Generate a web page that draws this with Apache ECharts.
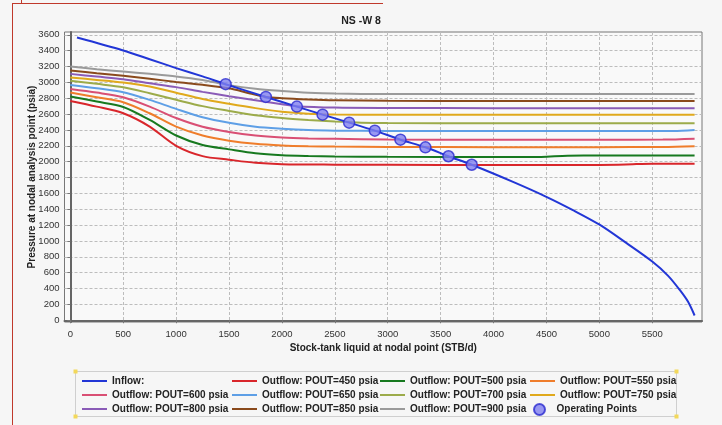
<!DOCTYPE html>
<html>
<head>
<meta charset="utf-8">
<script src="https://cdn.jsdelivr.net/npm/echarts@6/dist/echarts.min.js"></script>
<style>
html, body { margin: 0; padding: 0; background: #f6f6f6; }
#chart { width: 722px; height: 425px; }
</style>
</head>
<body>
<div id="chart"></div>
<script>
// tick labels
var xTicks = [0, 500, 1000, 1500, 2000, 2500, 3000, 3500, 4000, 4500, 5000, 5500];
var yTicks = [0, 200, 400, 600, 800, 1000, 1200, 1400, 1600, 1800, 2000, 2200, 2400, 2600, 2800, 3000, 3200, 3400, 3600];

// inflow curve [liquid rate, pressure]
var inflow = [[63, 3565], [500, 3402], [750, 3292], [1000, 3180], [1250, 3075], [1468, 2977], [1848, 2816],
    [2141, 2694], [2384, 2593], [2635, 2492], [2878, 2391], [3120, 2277], [3356, 2181], [3574, 2068],
    [3794, 1961], [4184, 1745], [4499, 1557], [4750, 1389], [5002, 1205], [5254, 975], [5500, 740],
    [5650, 560], [5758, 385], [5837, 235], [5900, 60]];

// outflow curves, one per outlet pressure
var out450 = [[0, 2766], [250, 2694], [500, 2610], [750, 2442], [1000, 2200], [1250, 2070], [1500, 2025],
    [1750, 1985], [2000, 1968], [2500, 1962], [3000, 1960], [4000, 1958], [5000, 1959], [5250, 1964],
    [5500, 1975], [5900, 1975]];
var out500 = [[0, 2821], [250, 2758], [500, 2690], [750, 2526], [1000, 2330], [1250, 2210], [1500, 2155],
    [1750, 2105], [2000, 2080], [2250, 2070], [2500, 2065], [3000, 2061], [4000, 2059], [4450, 2060],
    [4700, 2076], [5000, 2077], [5900, 2077]];
var out550 = [[0, 2871], [250, 2812], [500, 2750], [750, 2610], [1000, 2442], [1250, 2330], [1500, 2265],
    [1750, 2225], [2000, 2205], [2250, 2195], [2500, 2190], [3000, 2185], [4000, 2183], [5000, 2183],
    [5600, 2186], [5900, 2195]];
var out600 = [[0, 2917], [250, 2871], [500, 2812], [750, 2694], [1000, 2550], [1250, 2440], [1500, 2375],
    [1750, 2330], [2000, 2305], [2250, 2293], [2500, 2288], [3000, 2280], [4000, 2276], [5000, 2275],
    [5600, 2278], [5900, 2290]];
var out650 = [[0, 2968], [250, 2926], [500, 2876], [750, 2779], [1000, 2665], [1250, 2560], [1500, 2490],
    [1750, 2440], [2000, 2415], [2250, 2398], [2500, 2391], [3000, 2388], [4000, 2386], [5000, 2385],
    [5700, 2387], [5900, 2400]];
var out700 = [[0, 3019], [250, 2981], [500, 2939], [750, 2863], [1000, 2780], [1250, 2700], [1500, 2640],
    [1750, 2585], [2000, 2550], [2250, 2525], [2500, 2505], [2750, 2492], [3000, 2487], [4000, 2485],
    [5900, 2484]];
var out750 = [[0, 3061], [250, 3031], [500, 2998], [750, 2947], [1000, 2870], [1250, 2790], [1500, 2730],
    [1750, 2675], [2000, 2630], [2250, 2605], [2500, 2595], [3000, 2590], [4000, 2590], [5900, 2590]];
var out800 = [[0, 3107], [250, 3073], [500, 3040], [750, 2989], [1000, 2940], [1250, 2880], [1500, 2825],
    [1750, 2775], [2000, 2725], [2141, 2700], [2500, 2682], [3000, 2677], [4000, 2675], [5900, 2674]];
var out850 = [[0, 3149], [250, 3115], [500, 3082], [750, 3045], [1000, 3005], [1250, 2970], [1500, 2925],
    [1700, 2860], [1850, 2816], [2000, 2800], [2250, 2785], [2500, 2775], [3000, 2768], [4000, 2766],
    [5900, 2766]];
var out900 = [[0, 3200], [250, 3166], [500, 3136], [750, 3107], [1000, 3075], [1250, 3030], [1500, 2965],
    [1750, 2920], [2000, 2892], [2250, 2870], [2500, 2858], [3000, 2853], [4000, 2852], [5900, 2852]];

// operating points (intersections)
var opPoints = [[1468, 2977], [1848, 2816], [2141, 2694], [2384, 2593], [2635, 2492], [2878, 2391],
    [3120, 2277], [3356, 2181], [3574, 2068], [3794, 1961]];

var font = 'Liberation Sans';
var chart = echarts.init(document.getElementById('chart'));

function outflow(name, data, color) {
    return {
        name: name,
        type: 'line',
        data: data,
        color: color,
        smooth: 0.3,
        showSymbol: false,
        symbol: 'none',
        lineStyle: { width: 2, color: color },
        z: 2
    };
}

function legendCol(left, top, names, icon, w, h) {
    return {
        orient: 'vertical',
        left: left,
        top: top,
        data: names,
        icon: icon,
        itemWidth: w,
        itemHeight: h,
        itemGap: 2,
        padding: 0,
        textStyle: { fontFamily: font, fontSize: 10, fontWeight: 'bold', color: '#222', lineHeight: 12 }
    };
}

var corner = function (x, y) {
    return { type: 'rect', shape: { x: x - 2, y: y - 2, width: 4, height: 4 }, style: { fill: '#f3d85a' }, z: 10 };
};

var plain = function (v) { return String(v); };

var option = {
    backgroundColor: '#f6f6f6',
    animation: false,
    textStyle: { fontFamily: font },
    title: {
        text: 'NS -W 8',
        left: 'center',
        top: 11,
        textStyle: { fontFamily: font, fontSize: 10.5, fontWeight: 'bold', color: '#222' }
    },
    grid: {
        left: 64.5, right: 20, top: 32, bottom: 103,
        show: true, backgroundColor: '#f9f9f9', borderColor: '#777', borderWidth: 1
    },
    xAxis: {
        type: 'value',
        min: -55, max: 5970,
        name: 'Stock-tank liquid at nodal point (STB/d)',
        nameLocation: 'middle',
        nameGap: 21,
        nameMoveOverlap: false,
        nameTextStyle: { fontFamily: font, fontSize: 10, fontWeight: 'bold', color: '#222' },
        axisLine: { lineStyle: { color: '#666', width: 2 } },
        axisTick: { customValues: xTicks, length: 3, lineStyle: { color: '#777' } },
        axisLabel: { customValues: xTicks, formatter: plain, fontFamily: font, fontSize: 9.5, color: '#333', margin: 7 },
        splitLine: { show: true, lineStyle: { color: '#bdbdbd', type: [3, 2], width: 1 } }
    },
    yAxis: {
        type: 'value',
        min: -22, max: 3635,
        name: 'Pressure at nodal analysis point (psia)',
        nameLocation: 'middle',
        nameGap: 27,
        nameMoveOverlap: false,
        nameTextStyle: { fontFamily: font, fontSize: 10, fontWeight: 'bold', color: '#222' },
        axisLine: { show: true, lineStyle: { color: '#666', width: 2 } },
        axisTick: { show: true, customValues: yTicks, length: 3, lineStyle: { color: '#777' } },
        axisLabel: { customValues: yTicks, formatter: plain, fontFamily: font, fontSize: 9.5, color: '#333', margin: 5 },
        splitLine: { show: true, lineStyle: { color: '#bdbdbd', type: [3, 2], width: 1 } }
    },
    legend: [
        legendCol(82, 375, ['Inflow:', 'Outflow: POUT=600 psia', 'Outflow: POUT=800 psia'], 'rect', 25, 2),
        legendCol(232, 375, ['Outflow: POUT=450 psia', 'Outflow: POUT=650 psia', 'Outflow: POUT=850 psia'], 'rect', 25, 2),
        legendCol(380, 375, ['Outflow: POUT=500 psia', 'Outflow: POUT=700 psia', 'Outflow: POUT=900 psia'], 'rect', 25, 2),
        legendCol(530, 375, ['Outflow: POUT=550 psia', 'Outflow: POUT=750 psia'], 'rect', 25, 2),
        legendCol(533, 403, ['Operating Points'], 'circle', 24, 11)
    ],
    graphic: [
        { type: 'rect', shape: { x: 75.5, y: 371.5, width: 601, height: 45 }, style: { fill: 'none', stroke: '#cfcfcf', lineWidth: 1 }, z: 1 },
        corner(75.5, 371.5), corner(676.5, 371.5), corner(75.5, 416.5), corner(676.5, 416.5),
        { type: 'line', shape: { x1: 12.5, y1: 3, x2: 12.5, y2: 425 }, style: { stroke: '#c0392b', lineWidth: 1 } },
        { type: 'line', shape: { x1: 12, y1: 3.5, x2: 383, y2: 3.5 }, style: { stroke: '#c0392b', lineWidth: 1 } },
        { type: 'line', shape: { x1: 21.5, y1: 0, x2: 21.5, y2: 3 }, style: { stroke: '#c0392b', lineWidth: 1 } }
    ],
    series: [
        {
            name: 'Inflow:',
            type: 'line',
            data: inflow,
            color: '#2236d6',
            smooth: 0.3,
            showSymbol: false,
            symbol: 'none',
            lineStyle: { width: 2, color: '#2236d6' },
            z: 4
        },
        outflow('Outflow: POUT=450 psia', out450, '#d9262b'),
        outflow('Outflow: POUT=500 psia', out500, '#17791f'),
        outflow('Outflow: POUT=550 psia', out550, '#ef7d2b'),
        outflow('Outflow: POUT=600 psia', out600, '#d94f74'),
        outflow('Outflow: POUT=650 psia', out650, '#5e9fe6'),
        outflow('Outflow: POUT=700 psia', out700, '#9cab4a'),
        outflow('Outflow: POUT=750 psia', out750, '#e0a91c'),
        outflow('Outflow: POUT=800 psia', out800, '#8a5bb7'),
        outflow('Outflow: POUT=850 psia', out850, '#8a4a1c'),
        outflow('Outflow: POUT=900 psia', out900, '#9a9a9a'),
        {
            name: 'Operating Points',
            type: 'scatter',
            data: opPoints,
            symbol: 'circle',
            symbolSize: 11,
            color: '#8080f0',
            itemStyle: { color: '#8080f0', borderColor: '#2a2ad0', borderWidth: 1.5 },
            z: 5
        }
    ]
};
chart.setOption(option);
</script>
</body>
</html>
